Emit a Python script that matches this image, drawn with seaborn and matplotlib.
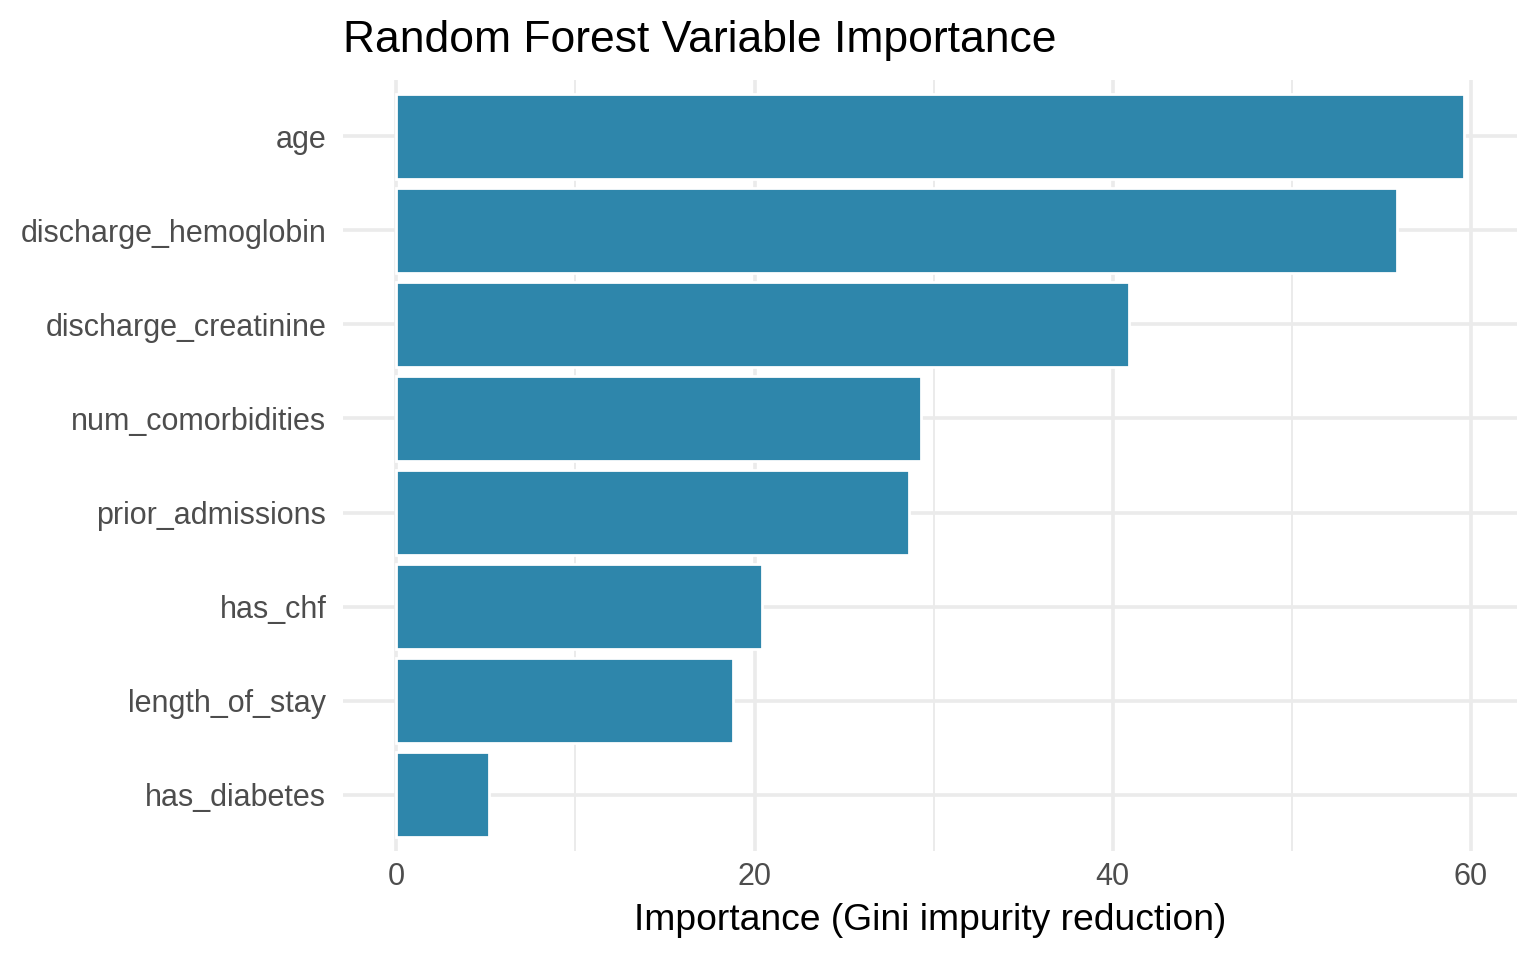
import numpy as np
import pandas as pd
import matplotlib
matplotlib.use("Agg")
import matplotlib.pyplot as plt
import seaborn as sns

# Données
variables = ["age", "discharge_hemoglobin", "discharge_creatinine",
             "num_comorbidities", "prior_admissions", "has_chf",
             "length_of_stay", "has_diabetes"]
importance = [59.6, 55.9, 40.9, 29.3, 28.6, 20.4, 18.8, 5.2]
x_ticks = [0, 20, 40, 60]
x_minor = [10, 30, 50]

df = pd.DataFrame({"variable": variables, "importance": importance})

sns.set_style("white")
plt.rcParams["font.family"] = ["Liberation Sans", "DejaVu Sans"]

fig = plt.figure(figsize=(7.68, 4.8), dpi=200)
ax = fig.add_axes([343 / 1536, 1 - 851 / 960, (1517 - 343) / 1536, (851 - 80) / 960])

sns.barplot(data=df, x="importance", y="variable", order=variables,
            color="#2E86AB", saturation=1, width=0.9, ax=ax, zorder=3)

# Grille façon theme_minimal
grid_col = "#EBEBEB"
for v in x_minor:
    ax.axvline(v, color=grid_col, lw=0.7, zorder=1)
for v in x_ticks:
    ax.axvline(v, color=grid_col, lw=1.3, zorder=1)
for i in range(len(variables)):
    ax.axhline(i, color=grid_col, lw=1.3, zorder=1)

xmax = max(importance)
ax.set_xlim(-0.05 * xmax, xmax * 1.05)
ax.set_ylim(len(variables) - 0.4, -0.6)
ax.set_xticks(x_ticks)
ax.set_xticklabels([str(t) for t in x_ticks])

for s in ax.spines.values():
    s.set_visible(False)
ax.tick_params(axis="both", length=0, labelsize=11, labelcolor="#4D4D4D")
ax.tick_params(axis="y", pad=6)
ax.tick_params(axis="x", pad=4)

ax.set_ylabel("")
ax.set_xlabel("Importance (Gini impurity reduction)", fontsize=13.4, color="black", labelpad=4)
ax.set_title("Random Forest Variable Importance", fontsize=16, loc="left", pad=10, color="black")

fig.savefig("out.png", dpi=200)
plt.close(fig)
